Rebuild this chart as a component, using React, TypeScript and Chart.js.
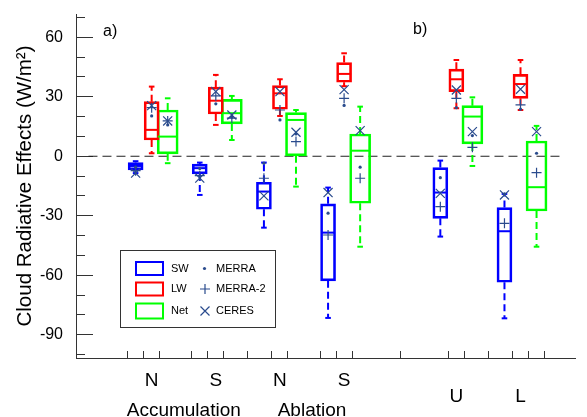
import React, { useEffect, useRef } from "react";
import { Chart, registerables } from "chart.js";

Chart.register(...registerables);

// ---------- data ----------
const groupLabels = ["N", "S", "N", "S", "U", "L"];
const groupCenters = [2, 6, 10, 14, 21, 25];
const panelBGroups = ["U", "L"];
const regionLabels = ["Accumulation", "Ablation"];
const regionCenters = [4, 12];
const yMajorTicks = [-90, -60, -30, 0, 30, 60];
const yMinorTicks = [-100, -90, -80, -70, -60, -50, -40, -30, -20, -10, 0, 10, 20, 30, 40, 50, 60, 70];
const yTitle = "Cloud Radiative Effects (W/m\u00B2)";

// box stats per group: [min, q1, median, q3, max]
const swBoxes = [
  [-8.5, -6.9, -4.9, -3.2, -2.5],
  [-19.5, -8.9, -6.0, -4.0, -3.2],
  [-36, -26.7, -17.8, -13.1, -3.2],
  [-81.5, -62.8, -38.5, -24, -15.8],
  [-40.5, -31.3, -18.3, -5.7, -2.2],
  [-81.7, -63.5, -37.8, -25.9, -19],
];
const lwBoxes = [
  [1.5, 8.2, 13.3, 27.5, 35.1],
  [15.8, 21.3, 28, 34.8, 41],
  [20.3, 23.7, 31.7, 35.6, 38.8],
  [35.3, 37.3, 41.5, 47.2, 51.9],
  [24.2, 32.6, 38.8, 43.9, 48.5],
  [23.3, 29.2, 36.4, 41.3, 48.5],
];
const netBoxes = [
  [-3.5, 1.2, 9.9, 23.3, 29.2],
  [8.2, 16.3, 21.7, 28.7, 30.4],
  [-15.3, 0.2, 18.3, 22, 23.3],
  [-45.6, -23.7, 2.8, 11.2, 25],
  [-4.9, 6.2, 20, 25.5, 29.7],
  [-45.6, -27.6, -15.6, 7.7, 15.3],
];

const merraSW = [-5.5, -6.2, -3.5, -28.7, -10.8, -19];
const merraLW = [20.3, 26.4, 18.3, 25.6, 24.5, 23.7];
const merraNet = [15.8, 19.7, 11.2, -5.5, 10.4, 1.5];
const merra2SW = [-7.3, -9.8, -11.1, -39.7, -25.4, -33.8];
const merra2LW = [24.5, 30.4, 23.3, 29.2, 29.2, 25.9];
const merra2Net = [17.8, 19.2, 7.4, -11.1, 4.5, -8.3];
const ceresSW = [-8.5, -11, -20, -18.3, -18.7, -19.5];
const ceresLW = [25.5, 32.6, 32.6, 33.6, 33.4, 33.8];
const ceresNet = [17.8, 20.8, 12.1, 12.9, 12.4, 12.4];

// ---------- style ----------
const FONT = '"Liberation Sans", Arial, Helvetica, sans-serif';
const MARK = "#2a4b8d";
const AXIS = "#333333";
const xMin = -1.94;
const xMax = 27.62;
const yMin = -101.7;
const yMax = 71.7;

const series = [
  { name: "SW", color: "#0000ff", boxes: swBoxes, offset: -1, width: 15, merra: merraSW, merra2: merra2SW, ceres: ceresSW },
  { name: "LW", color: "#ff0000", boxes: lwBoxes, offset: 0, width: 15, merra: merraLW, merra2: merra2LW, ceres: ceresLW },
  { name: "Net", color: "#00ff00", boxes: netBoxes, offset: 1, width: 21, merra: merraNet, merra2: merra2Net, ceres: ceresNet },
];

const xTickValues = groupCenters
  .flatMap((c) => [c - 1, c, c + 1])
  .concat(regionCenters)
  .sort((a, b) => a - b);

function xLabel(v: number): string | string[] {
  const gi = groupCenters.indexOf(v);
  if (gi >= 0) {
    const lab = groupLabels[gi];
    return panelBGroups.includes(lab) && gi >= 4 ? ["", lab] : lab;
  }
  const ri = regionCenters.indexOf(v);
  if (ri >= 0) return ["", regionLabels[ri]];
  return "";
}

function buildDatasets(): any[] {
  const ds: any[] = [];
  ds.push({
    type: "line",
    data: [
      { x: xMin, y: 0 },
      { x: xMax, y: 0 },
    ],
    borderColor: "#222",
    borderWidth: 1.2,
    borderDash: [9, 5],
    pointRadius: 0,
    order: 20,
  });
  series.forEach((s) => {
    const xs = groupCenters.map((c) => c + s.offset);
    ds.push({
      type: "bar",
      label: s.name,
      data: s.boxes.map((b, i) => ({ x: xs[i], y: [b[1], b[3]] })),
      backgroundColor: "rgba(0,0,0,0)",
      borderColor: s.color,
      borderWidth: 2,
      borderSkipped: false,
      barThickness: s.width,
      grouped: false,
      order: 9,
    });
    ds.push({
      type: "line",
      data: s.boxes.flatMap((b, i) => [
        { x: xs[i], y: b[3] },
        { x: xs[i], y: b[4] },
        { x: xs[i], y: null },
        { x: xs[i], y: b[1] },
        { x: xs[i], y: b[0] },
        { x: xs[i], y: null },
      ]),
      borderColor: s.color,
      borderWidth: 2,
      borderDash: [7, 4],
      pointRadius: 0,
      spanGaps: false,
      order: 8,
    });
    ds.push({
      type: "scatter",
      data: s.boxes.flatMap((b, i) => [
        { x: xs[i], y: b[0] },
        { x: xs[i], y: b[4] },
      ]),
      pointStyle: "line",
      pointRadius: 2.8,
      pointBorderWidth: 2,
      pointBorderColor: s.color,
      order: 7,
    });
    ds.push({
      type: "scatter",
      data: s.boxes.map((b, i) => ({ x: xs[i], y: b[2] })),
      pointStyle: "line",
      pointRadius: s.width / 2 - 0.5,
      pointBorderWidth: 2,
      pointBorderColor: s.color,
      order: 6,
    });
    ds.push({
      type: "scatter",
      data: s.merra.map((v, i) => ({ x: xs[i], y: v })),
      pointStyle: "circle",
      pointRadius: 1.6,
      pointBackgroundColor: MARK,
      pointBorderWidth: 0,
      order: 3,
    });
    ds.push({
      type: "scatter",
      data: s.merra2.map((v, i) => ({ x: xs[i], y: v })),
      pointStyle: "cross",
      pointRadius: 5,
      pointBorderColor: MARK,
      pointBorderWidth: 1.2,
      order: 2,
    });
    ds.push({
      type: "scatter",
      data: s.ceres.map((v, i) => ({ x: xs[i], y: v })),
      pointStyle: "crossRot",
      pointRadius: 6.4,
      pointBorderColor: MARK,
      pointBorderWidth: 1.2,
      order: 1,
    });
  });
  return ds;
}

const overlayPlugin = {
  id: "overlay",
  afterDraw(chart: any) {
    const ctx = chart.ctx as CanvasRenderingContext2D;
    ctx.save();
    ctx.fillStyle = "#000";
    ctx.textBaseline = "middle";
    ctx.textAlign = "left";
    ctx.font = `16px ${FONT}`;
    ctx.fillText("a)", 103, 32);
    ctx.fillText("b)", 413, 30);

    // legend
    ctx.fillStyle = "#fff";
    ctx.fillRect(120.5, 250.5, 155, 77);
    ctx.strokeStyle = "#333";
    ctx.lineWidth = 1;
    ctx.strokeRect(120.5, 250.5, 155, 77);

    const rows = [268.5, 289, 311];
    const rectH = [13, 13, 15];
    series.forEach((s, i) => {
      ctx.strokeStyle = s.color;
      ctx.lineWidth = 2;
      ctx.strokeRect(136, rows[i] - rectH[i] / 2, 27, rectH[i]);
      ctx.fillStyle = "#000";
      ctx.font = `11px ${FONT}`;
      ctx.fillText(s.name, 171, rows[i]);
    });
    const markNames = ["MERRA", "MERRA-2", "CERES"];
    ctx.strokeStyle = MARK;
    ctx.fillStyle = MARK;
    ctx.lineWidth = 1.2;
    ctx.beginPath();
    ctx.arc(204.5, rows[0], 1.6, 0, Math.PI * 2);
    ctx.fill();
    ctx.beginPath();
    ctx.moveTo(200, rows[1]);
    ctx.lineTo(210, rows[1]);
    ctx.moveTo(205, rows[1] - 5);
    ctx.lineTo(205, rows[1] + 5);
    ctx.stroke();
    ctx.beginPath();
    ctx.moveTo(200.5, rows[2] - 4.5);
    ctx.lineTo(209.5, rows[2] + 4.5);
    ctx.moveTo(200.5, rows[2] + 4.5);
    ctx.lineTo(209.5, rows[2] - 4.5);
    ctx.stroke();
    ctx.fillStyle = "#000";
    ctx.font = `11px ${FONT}`;
    markNames.forEach((n, i) => ctx.fillText(n, 216, rows[i]));
    ctx.restore();
  },
};

export default function App() {
  const ref = useRef<HTMLCanvasElement | null>(null);
  useEffect(() => {
    if (!ref.current) return;
    Chart.defaults.font.family = FONT;
    const chart = new Chart(ref.current, {
      type: "bar",
      data: { datasets: buildDatasets() },
      options: {
        animation: false,
        responsive: false,
        devicePixelRatio: 1,
        events: [],
        layout: { padding: { top: 14, left: 0, right: 0, bottom: 0 } },
        plugins: { legend: { display: false }, tooltip: { enabled: false } },
        scales: {
          x: {
            type: "linear",
            position: "bottom",
            min: xMin,
            max: xMax,
            afterBuildTicks: (s: any) => {
              s.ticks = xTickValues.map((v) => ({ value: v }));
            },
            afterFit: (s: any) => {
              s.height = 59;
              s.paddingLeft = 0;
              s.paddingRight = 0;
            },
            ticks: {
              autoSkip: false,
              maxRotation: 0,
              minRotation: 0,
              padding: 15,
              color: "#000",
              font: (c: any) => {
                const v = c && c.tick ? c.tick.value : 0;
                const gi = groupCenters.indexOf(v);
                const lower = gi >= 4;
                return { family: FONT, size: 19, lineHeight: lower ? "20.7px" : "30px" };
              },
              callback: (v: any) => xLabel(Number(v)),
            },
            grid: {
              drawOnChartArea: false,
              drawTicks: true,
              tickLength: -7,
              tickWidth: 1,
              tickColor: (c: any) =>
                c && c.tick && regionCenters.includes(c.tick.value) ? "rgba(0,0,0,0)" : AXIS,
            },
            border: { display: true, color: AXIS, width: 1 },
          },
          y: {
            type: "linear",
            position: "left",
            weight: 1,
            min: yMin,
            max: yMax,
            afterBuildTicks: (s: any) => {
              s.ticks = yMajorTicks.map((v) => ({ value: v }));
            },
            afterFit: (s: any) => {
              s.width = 76;
              s.paddingTop = 0;
              s.paddingBottom = 0;
            },
            ticks: {
              padding: 30,
              color: "#000",
              font: { family: FONT, size: 16 },
              callback: (v: any) => String(v),
            },
            grid: {
              drawOnChartArea: false,
              drawTicks: true,
              tickLength: -17,
              tickWidth: 1,
              tickColor: AXIS,
            },
            border: { display: true, color: AXIS, width: 1 },
            title: {
              display: true,
              text: yTitle,
              color: "#000",
              font: { family: FONT, size: 20.5 },
              padding: { top: 13, bottom: 0 },
            },
          },
          y2: {
            type: "linear",
            position: "left",
            weight: 0,
            min: yMin,
            max: yMax,
            afterBuildTicks: (s: any) => {
              s.ticks = yMinorTicks.map((v) => ({ value: v }));
            },
            afterFit: (s: any) => {
              s.width = 0;
              s.paddingTop = 0;
              s.paddingBottom = 0;
            },
            ticks: { display: false },
            grid: {
              drawOnChartArea: false,
              drawTicks: true,
              tickLength: -9,
              tickWidth: 1,
              tickColor: AXIS,
            },
            border: { display: false },
          },
        },
      } as any,
      plugins: [overlayPlugin],
    } as any);
    return () => chart.destroy();
  }, []);
  return (
    <div style={{ position: "fixed", left: 0, top: 0, width: 587, height: 417, background: "#fff" }}>
      <canvas ref={ref} width={587} height={417} style={{ display: "block" }} />
    </div>
  );
}
